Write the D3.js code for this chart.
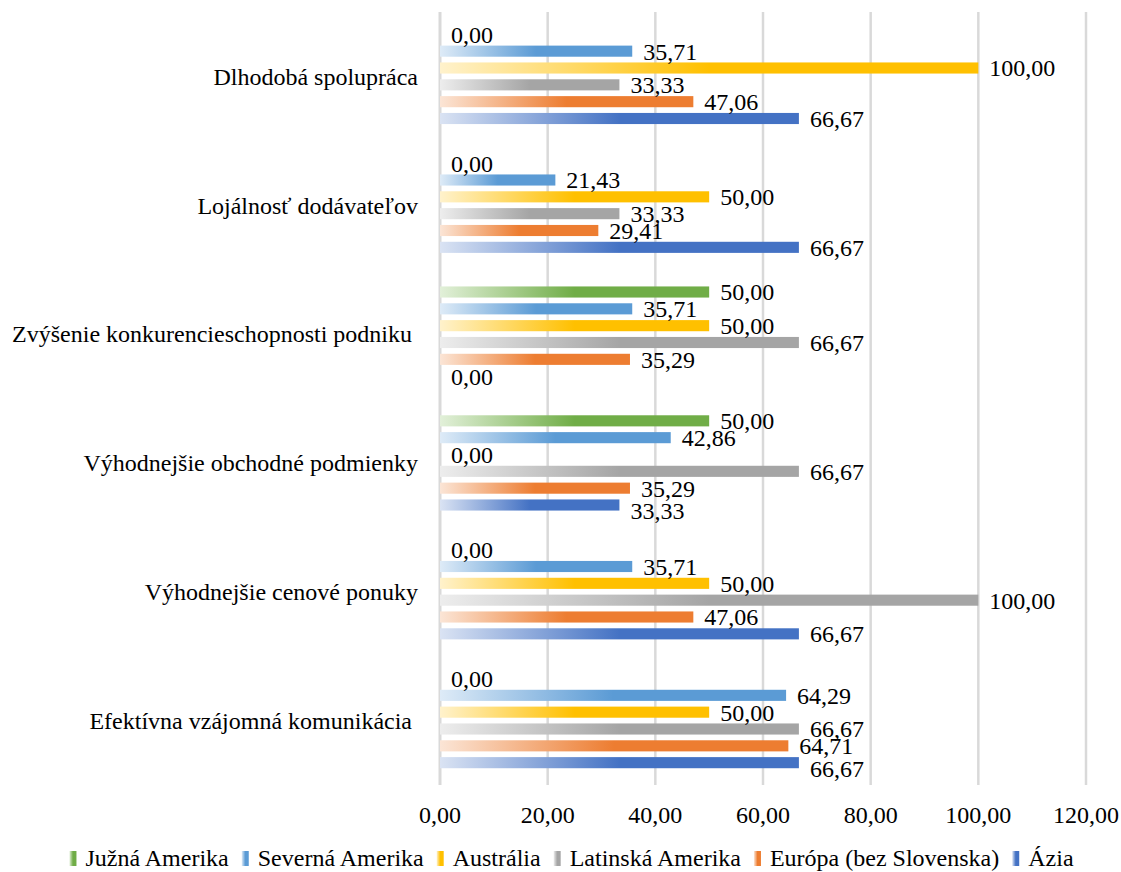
<!DOCTYPE html>
<html>
<head>
<meta charset="utf-8">
<script src="https://cdn.jsdelivr.net/npm/d3@7"></script>
<style>
  html, body { margin: 0; padding: 0; background: #ffffff; }
</style>
</head>
<body>
<svg id="chart" width="1121" height="872" font-family="'Liberation Serif', Tinos, 'Times New Roman', 'DejaVu Serif', serif"></svg>
<script>
// Categories, listed from the top of the chart to the bottom
const categories = [
  "Dlhodobá spolupráca",
  "Lojálnosť dodávateľov",
  "Zvýšenie konkurencieschopnosti podniku ",
  "Výhodnejšie obchodné podmienky",
  "Výhodnejšie cenové ponuky",
  "Efektívna vzájomná komunikácia "
];

// Series (in legend order, drawn top to bottom inside each group)
const seriesNames = ["Južná Amerika", "Severná Amerika", "Austrália", "Latinská Amerika", "Európa (bez Slovenska)", "Ázia"];
const seriesColors = ["#70ad47", "#5b9bd5", "#ffc000", "#a5a5a5", "#ed7d31", "#4472c4"];
const seriesTints  = ["#e2f0d9", "#deebf7", "#fff2cc", "#ededed", "#fbe5d6", "#dae3f3"];

// Values per series, one per category (same order as categories)
const juznaAmerika    = [0.00, 0.00, 50.00, 50.00, 0.00, 0.00];
const severnaAmerika  = [35.71, 21.43, 35.71, 42.86, 35.71, 64.29];
const australia       = [100.00, 50.00, 50.00, 0.00, 50.00, 50.00];
const latinskaAmerika = [33.33, 33.33, 66.67, 66.67, 100.00, 66.67];
const europa          = [47.06, 29.41, 35.29, 35.29, 47.06, 64.71];
const azia            = [66.67, 66.67, 0.00, 33.33, 66.67, 66.67];

const seriesValues = [juznaAmerika, severnaAmerika, australia, latinskaAmerika, europa, azia];

// Axis ticks
const tickValues = [0, 20, 40, 60, 80, 100, 120];

const locale = d3.formatLocale({ decimal: ",", thousands: " ", grouping: [3], currency: ["", ""] });
const fmt = locale.format(".2f");

const svg = d3.select("#chart");
const FONT = 24;

const x = d3.scaleLinear().domain([0, 120]).range([440, 1086]);
const y = d3.scaleBand().domain(categories).range([12, 785]).paddingInner(0.216).paddingOuter(0.108);
const ySeries = d3.scaleBand().domain(seriesNames).range([0, y.bandwidth()]).paddingInner(0.34).paddingOuter(0.17);

// Horizontal gradients for each series
const defs = svg.append("defs");
seriesNames.forEach((name, i) => {
  const g = defs.append("linearGradient")
    .attr("id", "grad" + i)
    .attr("x1", 0).attr("y1", 0).attr("x2", 1).attr("y2", 0);
  g.append("stop").attr("offset", 0).attr("stop-color", seriesTints[i]);
  g.append("stop").attr("offset", 0.5).attr("stop-color", seriesColors[i]);
  g.append("stop").attr("offset", 1).attr("stop-color", seriesColors[i]);
});

// Vertical gridlines
svg.append("g").selectAll("line")
  .data(tickValues)
  .join("line")
  .attr("x1", d => x(d)).attr("x2", d => x(d))
  .attr("y1", 12).attr("y2", 785)
  .attr("stroke", "#d9d9d9")
  .attr("stroke-width", d => d === 0 ? 3 : 2.5);

// Tick labels
svg.append("g").selectAll("text")
  .data(tickValues)
  .join("text")
  .attr("x", d => x(d))
  .attr("y", 823)
  .attr("text-anchor", "middle")
  .attr("font-size", FONT)
  .text(d => fmt(d));

// Category labels
svg.append("g").selectAll("text")
  .data(categories)
  .join("text")
  .attr("x", 418)
  .attr("y", d => y(d) + y.bandwidth() / 2)
  .attr("dy", "0.35em")
  .attr("text-anchor", "end")
  .attr("font-size", FONT)
  .style("white-space", "pre")
  .text(d => d);

// Bars and value labels
const flat = [];
categories.forEach((c, ci) => {
  seriesNames.forEach((s, si) => {
    flat.push({ cat: c, series: s, si, value: seriesValues[si][ci] });
  });
});

svg.append("g").selectAll("rect")
  .data(flat)
  .join("rect")
  .attr("x", x(0))
  .attr("y", d => y(d.cat) + ySeries(d.series))
  .attr("width", d => x(d.value) - x(0))
  .attr("height", ySeries.bandwidth())
  .attr("fill", d => `url(#grad${d.si})`);

const labels = svg.append("g").selectAll("text")
  .data(flat)
  .join("text")
  .attr("x", d => x(d.value) + 11)
  .attr("y", d => y(d.cat) + ySeries(d.series) + ySeries.bandwidth() / 2)
  .attr("dy", "0.35em")
  .attr("font-size", FONT)
  .text(d => fmt(d.value));

// Push the last label of a group down when it collides with the one above it
labels.each(function (d) {
  if (d.si !== seriesNames.length - 1) return;
  const prev = flat.find(p => p.cat === d.cat && p.si === d.si - 1);
  if (Math.abs(x(prev.value) - x(d.value)) < 20) {
    d3.select(this).attr("y", +d3.select(this).attr("y") + 6);
  }
});

// Legend
const markerW = 7, markerH = 15, markerGap = 9, itemGap = 13;
const items = svg.append("g").selectAll("g")
  .data(seriesNames)
  .join("g");
items.append("rect")
  .attr("width", markerW).attr("height", markerH)
  .attr("y", 851)
  .attr("fill", (d, i) => `url(#grad${i})`);
items.append("text")
  .attr("x", markerW + markerGap)
  .attr("y", 866)
  .attr("font-size", FONT)
  .text(d => d);

const widths = [];
items.each(function () {
  widths.push(markerW + markerGap + d3.select(this).select("text").node().getComputedTextLength());
});
const total = d3.sum(widths) + itemGap * (widths.length - 1);
let cx = 571.5 - total / 2;
items.each(function (d, i) {
  d3.select(this).attr("transform", `translate(${cx},0)`);
  cx += widths[i] + itemGap;
});
</script>
</body>
</html>
